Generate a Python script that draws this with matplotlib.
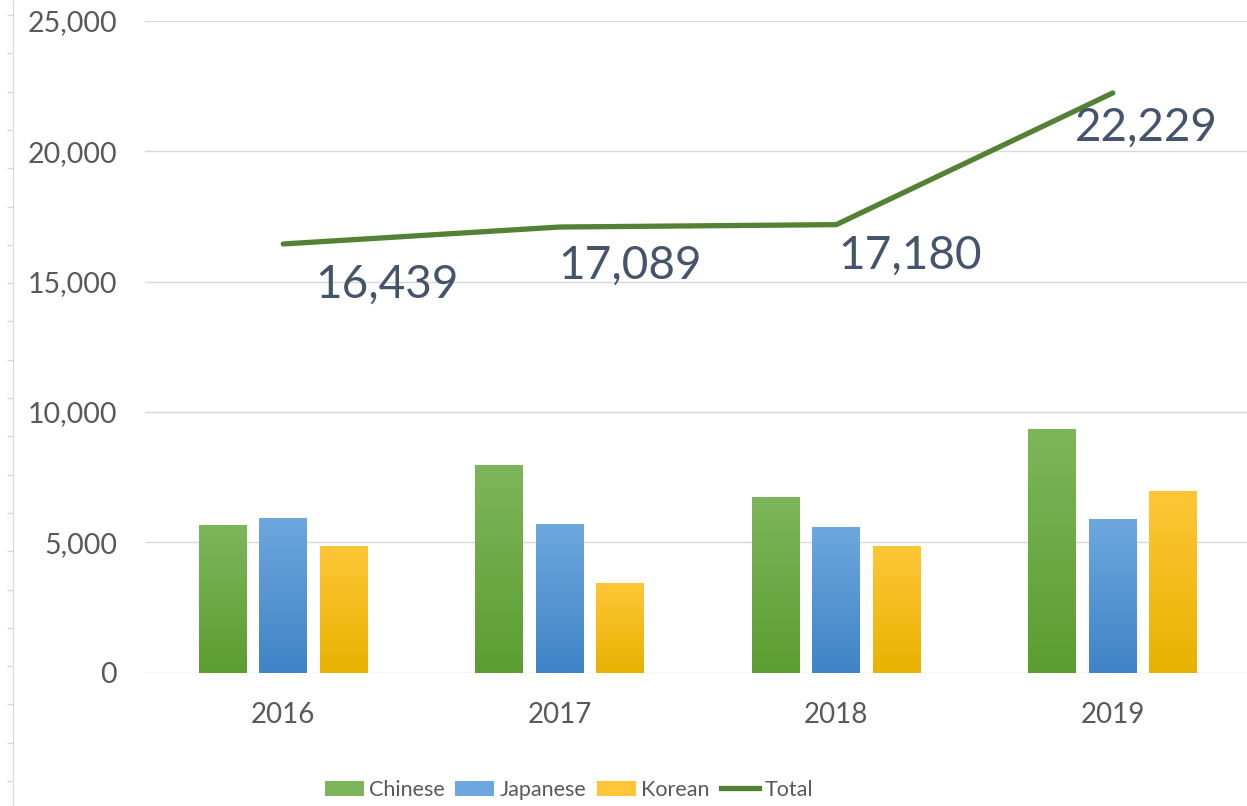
import numpy as np
import matplotlib
matplotlib.use("Agg")
import matplotlib.pyplot as plt
from matplotlib.colors import LinearSegmentedColormap
from matplotlib.lines import Line2D
from matplotlib.patches import Patch

plt.rcParams['font.family'] = ['Lato', 'DejaVu Sans']

# data
years = ['2016', '2017', '2018', '2019']
chinese = [5650, 7960, 6735, 9350]
japanese = [5950, 5700, 5585, 5900]
korean = [4839, 3429, 4860, 6979]
total = [16439, 17089, 17180, 22229]
yticks = [0, 5000, 10000, 15000, 20000, 25000]

# label offsets (pixels) for the total labels, placed by hand in the original
label_offsets = [(32, -41), (-2, -39), (2, -31), (-38, -35)]

W, H = 1247, 806
fig = plt.figure(figsize=(W / 100, H / 100), dpi=100)
ax = fig.add_axes([145 / W, (H - 672.7) / H, 1106 / W, 652 / H])

x = np.arange(len(years))
pitch = 0.2187
width = 0.1735

series = [
    ('Chinese', chinese, '#7DB65A', '#5C9D30'),
    ('Japanese', japanese, '#6DA7DE', '#3F84C6'),
    ('Korean', korean, '#FFC637', '#E8B200'),
]

for i, (name, vals, top, bottom) in enumerate(series):
    bars = ax.bar(x + (i - 1) * pitch, vals, width, color=top, linewidth=0, zorder=2)
    cmap = LinearSegmentedColormap.from_list(name, [bottom, top])
    grad = np.linspace(0, 1, 256).reshape(-1, 1)
    for b in bars:
        x0 = b.get_x()
        h = b.get_height()
        im = ax.imshow(grad, extent=[x0, x0 + b.get_width(), 0, h], origin='lower',
                       aspect='auto', cmap=cmap, zorder=2.1)
        im.set_clip_path(b)

ax.plot(x, total, color='#548235', lw=3.8, solid_capstyle='round', zorder=3)

for xi, v, (dx, dy) in zip(x, total, label_offsets):
    ax.annotate('{:,}'.format(v), xy=(xi, v), xytext=(dx, dy), textcoords='offset pixels',
                ha='left', va='center', fontsize=33, color='#44546A', zorder=4)

ax.set_xlim(-0.5, 3.5)
ax.set_ylim(0, 25000)
ax.set_yticks(yticks)
ax.set_yticklabels(['{:,}'.format(t) for t in yticks])
ax.set_xticks(x)
ax.set_xticklabels(years)
ax.tick_params(axis='y', length=0, pad=20, labelsize=20.5, labelcolor='#595959')
ax.tick_params(axis='x', length=0, pad=21, labelsize=20, labelcolor='#595959')
ax.grid(axis='y', color='#D9D9D9', lw=1.0, zorder=0)
ax.set_axisbelow(True)
for s in ax.spines.values():
    s.set_visible(False)

# legend
handles = [Patch(facecolor=c[2], edgecolor='none') for c in series]
handles.append(Line2D([0], [0], color='#548235', lw=3.8))
labels = [c[0] for c in series] + ['Total']
fig.legend(handles, labels, loc='center', bbox_to_anchor=(569 / W, 1 - 790 / H),
           ncol=4, frameon=False, fontsize=15.5, labelcolor='#595959',
           handlelength=1.8, handleheight=0.72, handletextpad=0.25,
           columnspacing=0.5, borderpad=0)

# faint ruler on the left edge
rul = fig.add_axes([12.5 / W, 0, 0.001, 1])
rul.set_ylim(H, 0)
rul.set_xticks([])
rul.set_yticks(np.arange(15, H, 38.3))
rul.set_yticklabels([])
rul.tick_params(axis='y', direction='out', length=4, color='#D9D9D9', width=1)
for k, s in rul.spines.items():
    s.set_visible(k == 'left')
rul.spines['left'].set_color('#D9D9D9')
rul.patch.set_alpha(0)

fig.savefig('out.png', dpi=100)
